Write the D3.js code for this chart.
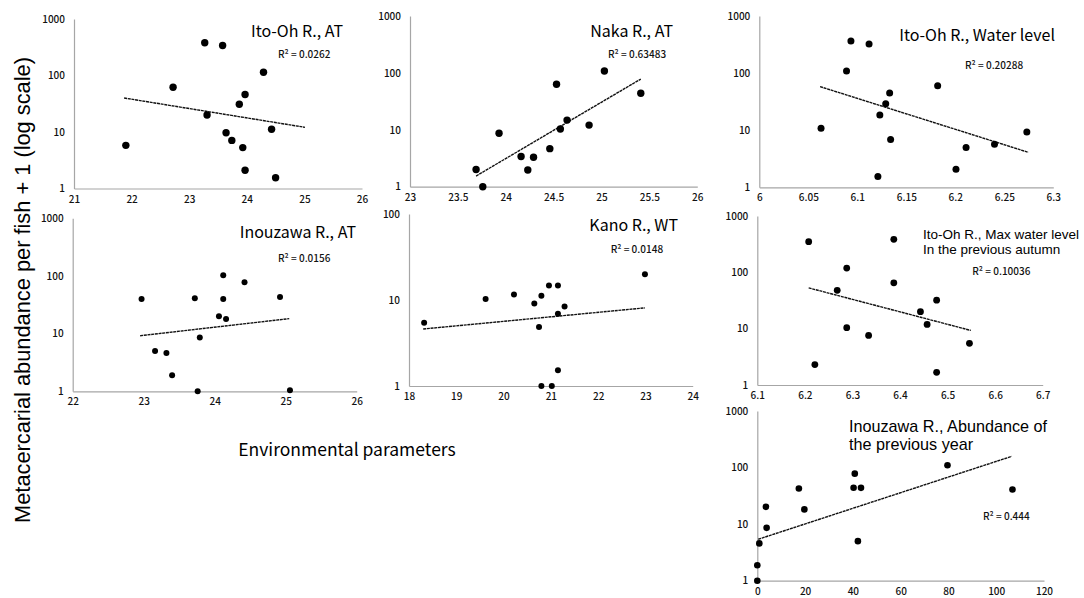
<!DOCTYPE html>
<html><head><meta charset="utf-8">
<script src="https://cdn.jsdelivr.net/npm/d3@7"></script>
<style>body{margin:0;background:#fff}svg{display:block}</style></head>
<body>
<svg id="chart" width="1084" height="598"></svg>
<script>
// ---------- DATA ----------
// Panel 1: Ito-Oh R., AT
const itoAT_x = [21.9, 22.72, 23.27, 23.58, 23.31, 23.64, 23.74, 23.87, 23.97, 23.93, 23.97, 24.29, 24.43, 24.50];
const itoAT_y = [5.8, 62, 380, 340, 20, 9.7, 7.1, 31, 46, 5.3, 2.1, 114, 11.2, 1.55];
const itoAT_trendX = [21.87, 25.01];
const itoAT_trendY = [40, 12.1];
const itoAT_xTicks = [21, 22, 23, 24, 25, 26];

// Panel 2: Naka R., AT
const nakaAT_x = [23.69, 23.76, 23.93, 24.16, 24.23, 24.29, 24.46, 24.53, 24.57, 24.64, 24.87, 25.03, 25.41];
const nakaAT_y = [2.0, 1.0, 8.7, 3.4, 1.96, 3.3, 4.66, 63, 10.3, 14.8, 12.1, 108, 44];
const nakaAT_trendX = [23.69, 25.41];
const nakaAT_trendY = [1.54, 78];
const nakaAT_xTicks = [23, 23.5, 24, 24.5, 25, 25.5, 26];

// Panel 3: Ito-Oh R., Water level
const itoWL_x = [6.063, 6.089, 6.0935, 6.112, 6.133, 6.129, 6.123, 6.134, 6.121, 6.182, 6.2007, 6.211, 6.240, 6.273];
const itoWL_y = [10.8, 109, 366, 324, 45, 29, 18.5, 6.9, 1.54, 60, 2.07, 5.0, 5.7, 9.3];
const itoWL_trendX = [6.062, 6.2745];
const itoWL_trendY = [58, 4.1];
const itoWL_xTicks = [6, 6.05, 6.1, 6.15, 6.2, 6.25, 6.3];

// Panel 4: Inouzawa R., AT
const inoAT_x = [22.97, 23.16, 23.32, 23.40, 23.72, 23.76, 23.79, 24.06, 24.12, 24.12, 24.16, 24.42, 24.92, 25.06];
const inoAT_y = [40, 5.0, 4.6, 1.9, 41, 1.0, 8.6, 20, 103, 40, 18, 78, 43, 1.04];
const inoAT_trendX = [22.95, 25.05];
const inoAT_trendY = [9.2, 18.2];
const inoAT_xTicks = [22, 23, 24, 25, 26];

// Panel 5: Kano R., WT
const kanoWT_x = [18.32, 19.62, 20.22, 20.65, 20.80, 20.96, 21.15, 20.75, 21.15, 21.29, 21.15, 20.80, 21.02, 22.99];
const kanoWT_y = [5.45, 10.3, 11.6, 9.1, 11.2, 14.7, 14.7, 4.85, 6.9, 8.4, 1.52, 1.0, 1.0, 19.9];
const kanoWT_trendX = [18.30, 22.99];
const kanoWT_trendY = [4.6, 8.1];
const kanoWT_xTicks = [18, 19, 20, 21, 22, 23, 24];

// Panel 6: Ito-Oh R., Max water level in the previous autumn
const itoMax_x = [6.208, 6.221, 6.268, 6.288, 6.288, 6.334, 6.387, 6.387, 6.443, 6.457, 6.477, 6.477, 6.546];
const itoMax_y = [350, 2.3, 48, 119, 10.4, 7.6, 385, 65, 20, 11.9, 32, 1.68, 5.5];
const itoMax_trendX = [6.208, 6.549];
const itoMax_trendY = [53, 9.3];
const itoMax_xTicks = [6.1, 6.2, 6.3, 6.4, 6.5, 6.6, 6.7];

// Panel 7: Inouzawa R., Abundance of the previous year
const inoPrev_x = [0, 0, 0.84, 3.6, 3.9, 17.4, 19.7, 40.8, 40.3, 43.4, 42.1, 79.6, 106.8];
const inoPrev_y = [1.0, 1.87, 4.56, 20.2, 8.6, 42.6, 18.2, 78, 44, 43.8, 5.0, 110, 41];
const inoPrev_trendX = [0.4, 106.5];
const inoPrev_trendY = [5.4, 158];
const inoPrev_xTicks = [0, 20, 40, 60, 80, 100, 120];

const yTicks1000 = [1, 10, 100, 1000];
const yTicks100 = [1, 10, 100];

const panelTitles = [
  ["Ito-Oh R., AT"], ["Naka R., AT"], ["Ito-Oh R., Water level"],
  ["Inouzawa R., AT"], ["Kano R., WT"],
  ["Ito-Oh R., Max water level", "In the previous autumn"],
  ["Inouzawa R., Abundance of", "the previous year"]
];
const r2Labels = ["R² = 0.0262", "R² = 0.63483", "R² = 0.20288", "R² = 0.0156", "R² = 0.0148", "R² = 0.10036", "R² = 0.444"];

const yAxisTitle = "Metacercarial abundance per fish + 1 (log scale)";
const xAxisTitle = "Environmental parameters";

// ---------- LAYOUT ----------
const cjk = "'Noto Sans CJK JP', 'Noto Sans', sans-serif";
const lib = "'Liberation Sans', Arial, sans-serif";
const panels = [
  {x: itoAT_x, y: itoAT_y, tx: itoAT_trendX, ty: itoAT_trendY, xt: itoAT_xTicks, yt: yTicks1000,
   L: 74, R: 362, T: 19, B: 188.5, r: 3.7, titleX: 343, titleY: 37, tSize: 16, tFont: cjk, anchor: "end", r2X: 278, r2Y: 58},
  {x: nakaAT_x, y: nakaAT_y, tx: nakaAT_trendX, ty: nakaAT_trendY, xt: nakaAT_xTicks, yt: yTicks1000,
   L: 410, R: 697.3, T: 16, B: 186.7, r: 3.7, titleX: 673, titleY: 37, tSize: 16, tFont: cjk, anchor: "end", r2X: 608, r2Y: 58},
  {x: itoWL_x, y: itoWL_y, tx: itoWL_trendX, ty: itoWL_trendY, xt: itoWL_xTicks, yt: yTicks1000,
   L: 759.3, R: 1053.3, T: 16, B: 187.3, r: 3.5, titleX: 1055, titleY: 41, tSize: 16, tFont: cjk, anchor: "end", r2X: 965, r2Y: 69},
  {x: inoAT_x, y: inoAT_y, tx: inoAT_trendX, ty: inoAT_trendY, xt: inoAT_xTicks, yt: yTicks1000,
   L: 72.7, R: 356.7, T: 218.3, B: 391.3, r: 3.0, titleX: 356, titleY: 237.5, tSize: 16, tFont: cjk, anchor: "end", r2X: 278, r2Y: 262},
  {x: kanoWT_x, y: kanoWT_y, tx: kanoWT_trendX, ty: kanoWT_trendY, xt: kanoWT_xTicks, yt: yTicks100,
   L: 409, R: 692.7, T: 214, B: 386, r: 3.0, titleX: 678, titleY: 231, tSize: 16, tFont: cjk, anchor: "end", r2X: 610.7, r2Y: 253},
  {x: itoMax_x, y: itoMax_y, tx: itoMax_trendX, ty: itoMax_trendY, xt: itoMax_xTicks, yt: yTicks1000,
   L: 757.3, R: 1042.7, T: 216, B: 385, r: 3.4, titleX: 923, titleY: 238.5, tSize: 13.5, tFont: lib, anchor: "start", lineH: 15.4, r2X: 972.3, r2Y: 275},
  {x: inoPrev_x, y: inoPrev_y, tx: inoPrev_trendX, ty: inoPrev_trendY, xt: inoPrev_xTicks, yt: yTicks1000,
   L: 757.3, R: 1044, T: 411, B: 580.7, r: 3.3, titleX: 849, titleY: 431.5, tSize: 16.2, tFont: lib, anchor: "start", lineH: 18.6, r2X: 983, r2Y: 519.5}
];

const svg = d3.select("#chart");
const tickFont = cjk;

panels.forEach((p, i) => {
  const g = svg.append("g");
  const xs = d3.scaleLinear().domain([p.xt[0], p.xt[p.xt.length - 1]]).range([p.L, p.R]);
  const ys = d3.scaleLog().domain([1, p.yt[p.yt.length - 1]]).range([p.B, p.T]);

  const xa = g.append("g").attr("transform", `translate(0,${p.B})`)
    .call(d3.axisBottom(xs).tickValues(p.xt).tickSize(0).tickPadding(7).tickFormat(d => String(d)));
  const ya = g.append("g").attr("transform", `translate(${p.L},0)`)
    .call(d3.axisLeft(ys).tickValues(p.yt).tickSize(0).tickPadding(9).tickFormat(d3.format("d")));
  [xa, ya].forEach(a => {
    a.select(".domain").attr("stroke", "#a6a6a6").attr("stroke-width", 1.2);
    a.selectAll("text").attr("font-family", tickFont).attr("font-size", 10).attr("font-weight", 500).attr("fill", "#111");
  });

  // trend line
  g.append("line")
    .attr("x1", xs(p.tx[0])).attr("y1", ys(p.ty[0]))
    .attr("x2", xs(p.tx[1])).attr("y2", ys(p.ty[1]))
    .attr("stroke", "#111").attr("stroke-width", 1.4).attr("stroke-dasharray", "3,0.7");

  // points
  g.selectAll("circle").data(p.x.map((v, k) => [v, p.y[k]])).join("circle")
    .attr("cx", d => xs(d[0])).attr("cy", d => ys(d[1])).attr("r", p.r).attr("fill", "#000");

  // title
  const lines = panelTitles[i];
  const tt = g.append("text").attr("x", p.titleX).attr("y", p.titleY)
    .attr("text-anchor", p.anchor).attr("font-family", p.tFont)
    .attr("font-size", p.tSize).attr("fill", "#000");
  lines.forEach((t, k) => {
    tt.append("tspan").attr("x", p.titleX).attr("dy", k === 0 ? 0 : p.lineH).text(t);
  });
  g.append("text").attr("x", p.r2X).attr("y", p.r2Y)
    .attr("font-family", tickFont).attr("font-size", 10).attr("font-weight", 500).attr("fill", "#111")
    .text(r2Labels[i]);
});

// axis titles
svg.append("text").attr("transform", "translate(30,290) rotate(-90)")
  .attr("text-anchor", "middle").attr("font-family", lib)
  .attr("font-size", 21.8).attr("fill", "#000").text(yAxisTitle);
svg.append("text").attr("x", 347).attr("y", 456)
  .attr("text-anchor", "middle").attr("font-family", cjk)
  .attr("font-size", 17.5).attr("fill", "#000").text(xAxisTitle);
</script>
</body></html>
